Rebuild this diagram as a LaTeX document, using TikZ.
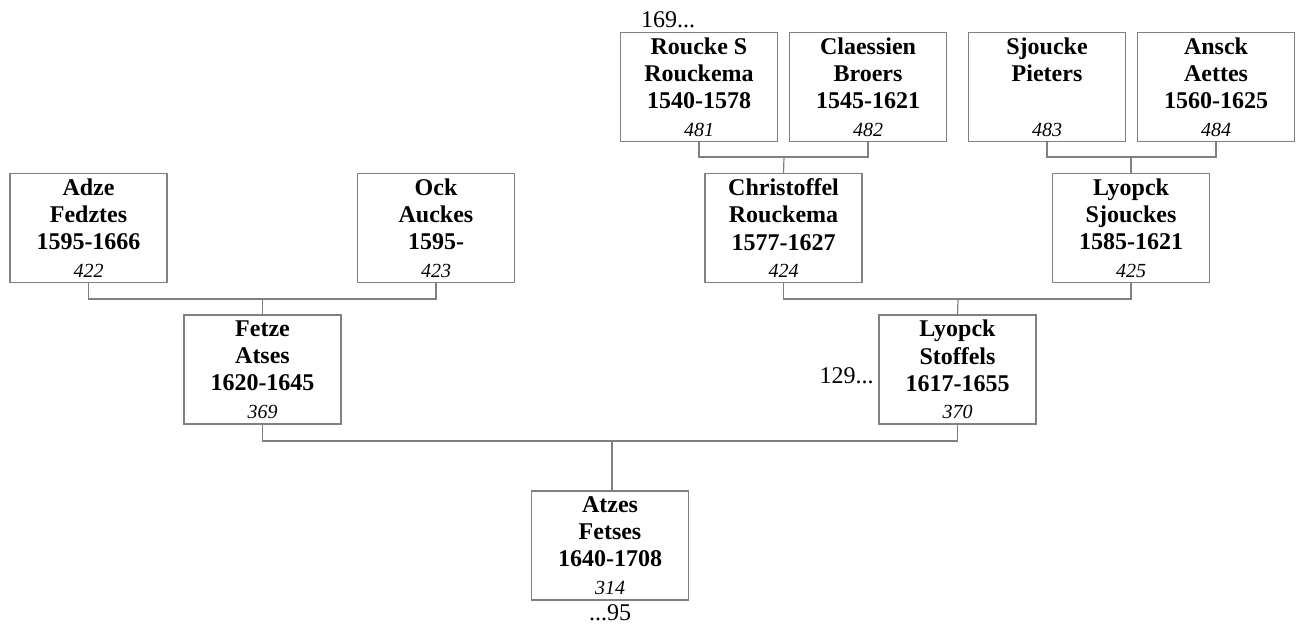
\documentclass[tikz,border=0pt]{standalone}
\usepackage{fontspec}
\setmainfont{Liberation Serif}
\usetikzlibrary{positioning}

\begin{document}
\begin{tikzpicture}[
  x=0.5pt, y=-0.5pt,
  every node/.style={font=\fontsize{12}{13.6}\selectfont},
  person/.style={draw=gray, line width=0.6pt, rectangle, minimum width=78.5pt, minimum height=54.5pt, align=center, inner sep=1pt},
  link/.style={draw=gray, line width=0.6pt},
  more/.style={inner sep=0pt, font=\fontsize{12}{13.6}\selectfont}
]
\useasboundingbox (0,0) rectangle (1300,628);

% great-grandparents
\node[person] (n481) at (699,87) {\textbf{Roucke S}\\\textbf{Rouckema}\\\textbf{1540-1578}\\\textit{\fontsize{10}{12}\selectfont 481}};
\node[person] (n482) at (868,87) {\textbf{Claessien}\\\textbf{Broers}\\\textbf{1545-1621}\\\textit{\fontsize{10}{12}\selectfont 482}};
\node[person] (n483) at (1047,87) {\textbf{Sjoucke}\\\textbf{Pieters}\\\mbox{}\\\textit{\fontsize{10}{12}\selectfont 483}};
\node[person] (n484) at (1216,87) {\textbf{Ansck}\\\textbf{Aettes}\\\textbf{1560-1625}\\\textit{\fontsize{10}{12}\selectfont 484}};

% grandparents
\node[person] (n422) at (88.5,228) {\textbf{Adze}\\\textbf{Fedztes}\\\textbf{1595-1666}\\\textit{\fontsize{10}{12}\selectfont 422}};
\node[person] (n423) at (436,228) {\textbf{Ock}\\\textbf{Auckes}\\\textbf{1595-}\\\textit{\fontsize{10}{12}\selectfont 423}};
\node[person] (n424) at (783.5,228) {\textbf{Christoffel}\\\textbf{Rouckema}\\\textbf{1577-1627}\\\textit{\fontsize{10}{12}\selectfont 424}};
\node[person] (n425) at (1131,228) {\textbf{Lyopck}\\\textbf{Sjouckes}\\\textbf{1585-1621}\\\textit{\fontsize{10}{12}\selectfont 425}};

% parents
\node[person] (n369) at (262.5,369.5) {\textbf{Fetze}\\\textbf{Atses}\\\textbf{1620-1645}\\\textit{\fontsize{10}{12}\selectfont 369}};
\node[person] (n370) at (957.5,369.5) {\textbf{Lyopck}\\\textbf{Stoffels}\\\textbf{1617-1655}\\\textit{\fontsize{10}{12}\selectfont 370}};

% root
\node[person] (n314) at (610,545.5) {\textbf{Atzes}\\\textbf{Fetses}\\\textbf{1640-1708}\\\textit{\fontsize{10}{12}\selectfont 314}};

% continuation marks
\node[more, anchor=base] (lbl169) at (668,27) {169...};
\node[more, anchor=base east] (lbl129) at (874,383) {129...};
\node[more, anchor=north] (lbl95) at (610,604) {...95};

% junctions
\coordinate (j424) at (784,157);
\coordinate (j425) at (1131,157);
\coordinate (j369) at (262.5,299);
\coordinate (j370) at (958,299);
\coordinate (j314) at (612,441);

\draw[link] (n481.south) |- (j424) -| (n482.south);
\draw[link] (j424) -- (n424.north);
\draw[link] (n483.south) |- (j425) -| (n484.south);
\draw[link] (j425) -- (n425.north);
\draw[link] (n422.south) |- (j369) -| (n423.south);
\draw[link] (j369) -- (n369.north);
\draw[link] (n424.south) |- (j370) -| (n425.south);
\draw[link] (j370) -- (n370.north);
\draw[link] (n369.south) |- (j314) -| (n370.south);
\draw[link] (j314) -- (j314 |- n314.north);
\end{tikzpicture}
\end{document}
